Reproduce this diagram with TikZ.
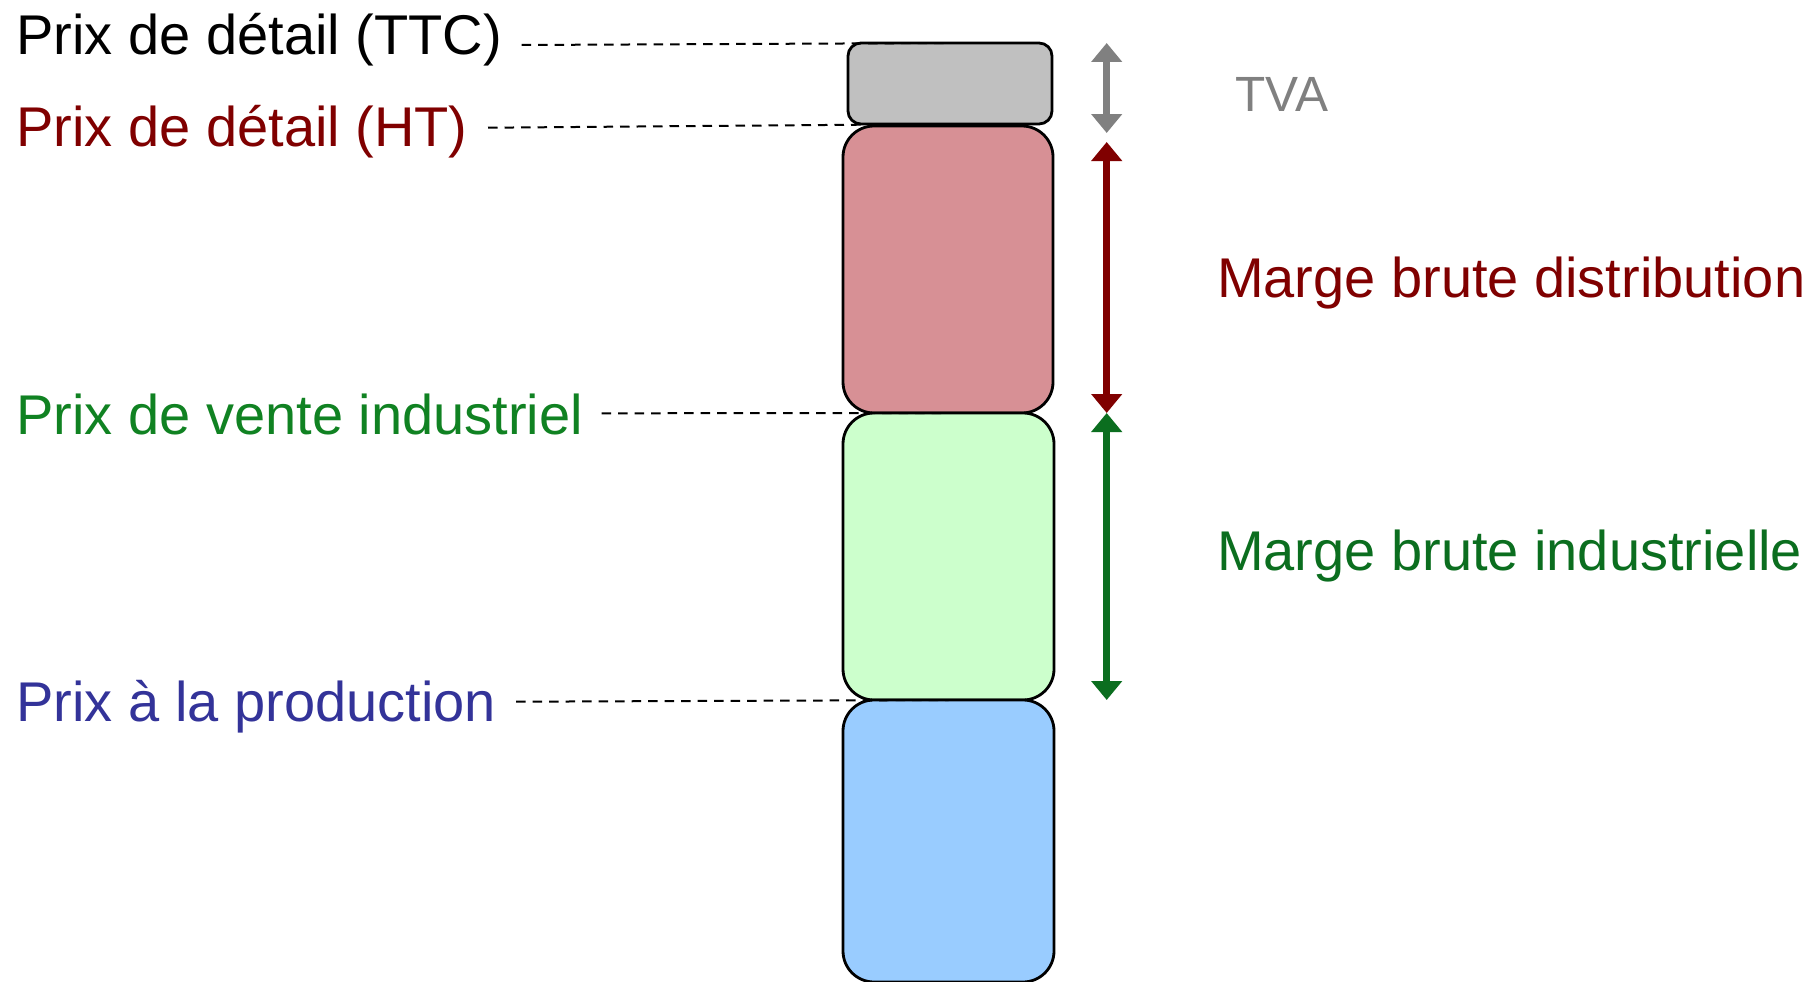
\documentclass[tikz,border=0pt]{standalone}
\usepackage{fontspec}
\setmainfont{Liberation Sans}
\usetikzlibrary{arrows.meta}
\definecolor{cdred}{RGB}{128,0,0}
\definecolor{cgreenA}{RGB}{16,130,34}
\definecolor{cgreenB}{RGB}{11,110,31}
\definecolor{cblue}{RGB}{51,51,153}
\definecolor{cgray}{RGB}{128,128,128}
\definecolor{fgray}{RGB}{192,192,192}
\definecolor{fred}{RGB}{215,144,149}
\definecolor{fgreen}{RGB}{204,255,204}
\definecolor{fblue}{RGB}{153,204,255}
\begin{document}
\begin{tikzpicture}[x=1pt,y=-1pt,
  lab/.style={inner sep=0pt, outer sep=0pt, anchor=base west, font=\fontsize{56}{66}\selectfont},
  seg/.style={draw=black, line width=2.8pt, inner sep=0pt, outer sep=0pt},
  guide/.style={draw=black, line width=2pt, dash pattern=on 9.5pt off 7pt},
  span/.style={line width=6.5pt, {Triangle[width=30pt,length=19pt]}-{Triangle[width=30pt,length=19pt]}}
]
\useasboundingbox (0,0) rectangle (1809,982);
\fill[white] (0,0) rectangle (1809,982);
% boxes
\node[seg, fill=fgray, rounded corners=13pt, minimum width=204pt, minimum height=81pt] (gray) at (950,83.5) {};
\node[seg, fill=fred, rounded corners=31pt, minimum width=210pt, minimum height=287pt] (red) at (948,269.5) {};
\node[seg, fill=fgreen, rounded corners=31pt, minimum width=211pt, minimum height=287pt] (green) at (948.5,556.5) {};
\node[seg, fill=fblue, rounded corners=31pt, minimum width=211pt, minimum height=282pt] (blue) at (948.5,841) {};
% left labels
\node[lab, text=black] (ttc) at (16.5,55) {Prix de détail (TTC)};
\node[lab, text=cdred] (ht) at (16.5,146.7) {Prix de détail (HT)};
\node[lab, text=cgreenA] (pvi) at (16.5,434) {Prix de vente industriel};
\node[lab, text=cblue] (pp) at (16.5,721.7) {Prix à la production};
% right labels
\node[lab, text=cgray, font=\fontsize{49.5}{60}\selectfont] (tva) at (1235.5,111.7) {TVA};
\node[lab, text=cdred] (mbd) at (1217,297.3) {Marge brute distribution};
\node[lab, text=cgreenB] (mbi) at (1217,570) {Marge brute industrielle};
% guide start points
\coordinate (gTTC) at (521.7,45);
\coordinate (gHT) at (488,127.7);
\coordinate (gPVI) at (601.7,413.3);
\coordinate (gPP) at (516,701.7);
\draw[guide] (gTTC) -- (gray.north);
\draw[guide] (gHT) -- (gray.south);
\draw[guide] (gPVI) -- (red.south);
\draw[guide] (gPP) -- (green.south);
% arrows
\coordinate (aT1) at (1106.7,43);
\coordinate (aT2) at (1106.7,133);
\coordinate (aD1) at (1106.7,142);
\coordinate (aD2) at (1106.7,413);
\coordinate (aI1) at (1106.7,413);
\coordinate (aI2) at (1106.7,700);
\draw[span, cgray] (aT1) -- (aT2);
\draw[span, cdred] (aD1) -- (aD2);
\draw[span, cgreenB] (aI1) -- (aI2);
\end{tikzpicture}
\end{document}
